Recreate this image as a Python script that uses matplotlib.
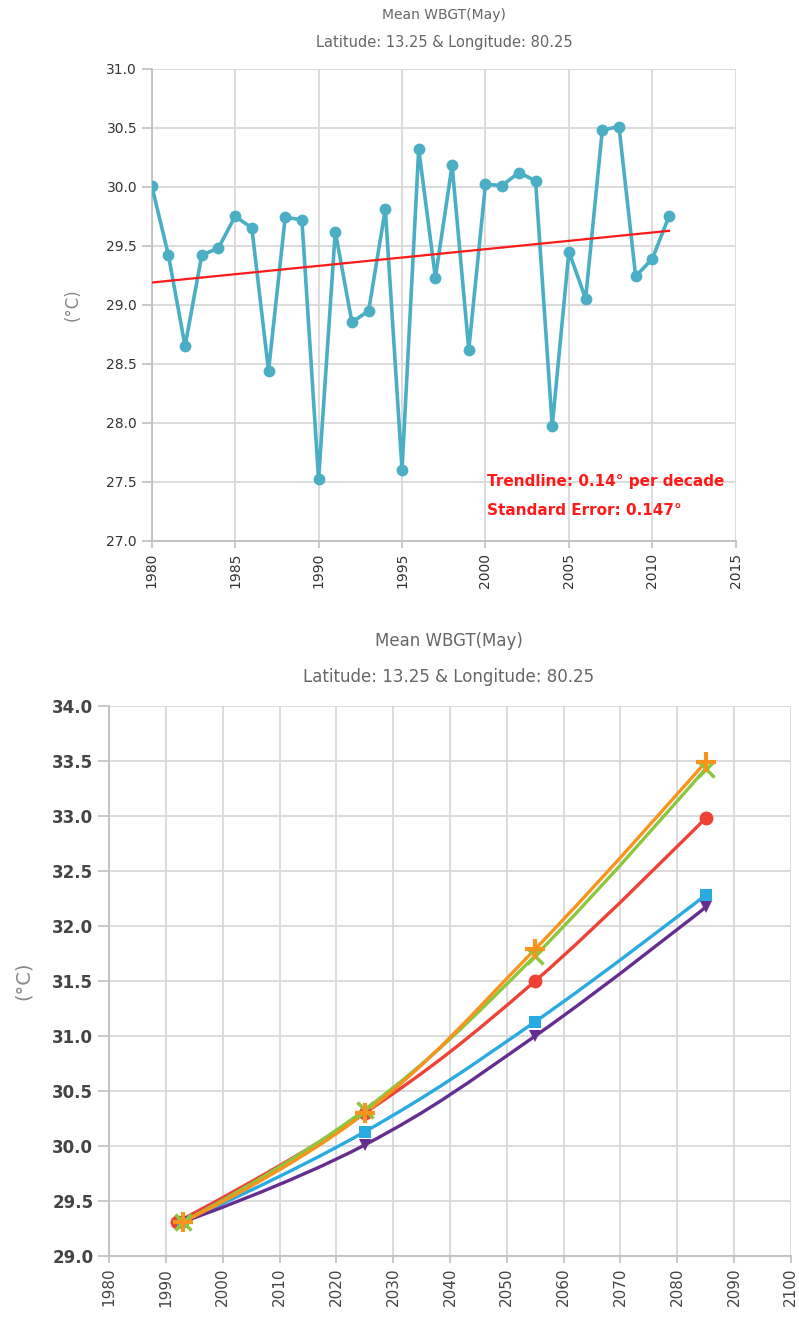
import matplotlib
matplotlib.use('Agg')
import matplotlib.pyplot as plt
import numpy as np
from matplotlib.path import Path
from matplotlib.patches import PathPatch

plt.rcParams['font.family'] = ['DejaVu Sans']

# ---- data: observed May mean WBGT ----
years = list(range(1980, 2012))
wbgt = [30.01, 29.42, 28.65, 29.42, 29.48, 29.75, 29.65, 28.44, 29.74, 29.72,
        27.52, 29.62, 28.85, 28.95, 29.81, 27.60, 30.32, 29.23, 30.18, 28.62,
        30.02, 30.01, 30.12, 30.05, 27.97, 29.45, 29.05, 30.48, 30.51, 29.24,
        29.39, 29.75]
trend_text = ['Trendline: 0.14° per decade', 'Standard Error: 0.147°']

# ---- data: projections ----
proj_years = [1993, 2025, 2055, 2085]
red_years = [1992, 2025, 2055, 2085]
proj_red = [29.31, 30.30, 31.50, 32.98]
proj_blue = [29.31, 30.13, 31.13, 32.28]
proj_purple = [29.31, 30.01, 31.00, 32.17]
proj_green = [29.31, 30.33, 31.73, 33.43]
proj_orange = [29.31, 30.30, 31.79, 33.49]

title1 = 'Mean WBGT(May)'
title2 = 'Latitude: 13.25 & Longitude: 80.25'

grid_c = '#d9d9d9'
axis_c = '#c0c0c0'
title_c = '#666666'
tick_c = '#333333'


def style_axes(ax):
    ax.grid(True, color=grid_c, linewidth=1.3)
    ax.set_axisbelow(True)
    for s in ['top', 'right']:
        ax.spines[s].set_visible(False)
    for s in ['left', 'bottom']:
        ax.spines[s].set_color(axis_c)
        ax.spines[s].set_linewidth(1.3)
    ax.tick_params(axis='both', color=axis_c, width=1.2, length=7, colors=tick_c)


def spline_path(xs, ys, smoothing=1.5):
    # Highcharts-like spline drawn as cubic bezier segments
    n = len(xs)
    lc = []
    rc = []
    denom = smoothing + 1
    for i in range(n):
        x, y = xs[i], ys[i]
        if 0 < i < n - 1:
            lx = (smoothing * x + xs[i - 1]) / denom
            ly = (smoothing * y + ys[i - 1]) / denom
            rx = (smoothing * x + xs[i + 1]) / denom
            ry = (smoothing * y + ys[i + 1]) / denom
            if rx != lx:
                corr = (ry - ly) * (rx - x) / (rx - lx) + y - ry
                ly += corr
                ry += corr
            lc.append((lx, ly))
            rc.append((rx, ry))
        else:
            lc.append((x, y))
            rc.append((x, y))
    verts = [(xs[0], ys[0])]
    codes = [Path.MOVETO]
    for i in range(1, n):
        verts += [rc[i - 1], lc[i], (xs[i], ys[i])]
        codes += [Path.CURVE4] * 3
    return Path(verts, codes)


fig = plt.figure(figsize=(7.99, 13.21), dpi=100)

# ---------------- top chart ----------------
ax1 = fig.add_axes([151.7 / 799, (1321 - 540.7) / 1321, 584.1 / 799, 472 / 1321])
style_axes(ax1)
ax1.plot(years, wbgt, color='#4aafc4', linewidth=2.6, marker='o', markersize=8.5,
         markeredgewidth=0, zorder=3)
slope, icpt = np.polyfit(years, wbgt, 1)
tx = np.array([years[0], years[-1]])
ax1.plot(tx, slope * tx + icpt, color='#ff1a1a', linewidth=1.6, zorder=4)
ax1.set_xlim(1980, 2015)
ax1.set_ylim(27.0, 31.0)
ax1.set_xticks(np.arange(1980, 2016, 5))
ax1.set_yticks(np.arange(27.0, 31.01, 0.5))
ax1.set_yticklabels([f'{v:.1f}' for v in np.arange(27.0, 31.01, 0.5)], fontsize=10)
ax1.set_xticklabels([str(v) for v in range(1980, 2016, 5)], rotation=90, fontsize=10)
ax1.tick_params(axis='x', length=5)
ax1.set_ylabel('(°C)', color='#888888', fontsize=12, labelpad=18)
ax1.text(2000.1, 27.5, trend_text[0], color='#ff1a1a', fontsize=11,
         fontweight='bold', va='center', ha='left')
ax1.text(2000.1, 27.26, trend_text[1], color='#ff1a1a', fontsize=11,
         fontweight='bold', va='center', ha='left')
fig.text(444 / 799, 1 - 15 / 1321, title1, ha='center', va='center',
         color=title_c, fontsize=10)
fig.text(444 / 799, 1 - 43 / 1321, title2, ha='center', va='center',
         color=title_c, fontsize=10.5)

# ---------------- bottom chart ----------------
ax2 = fig.add_axes([109.3 / 799, (1321 - 1256) / 1321, 681.4 / 799, 550 / 1321])
style_axes(ax2)
series = [
    (red_years, proj_red, '#ee4236', 'o', 10, 0),
    (proj_years, proj_blue, '#29abe2', 's', 9, 0),
    (proj_years, proj_purple, '#662d91', 'v', 9, 0),
    (proj_years, proj_green, '#8dc63f', 'x', 12, 2.5),
    (proj_years, proj_orange, '#f7941d', '+', 15, 3),
]
for xs, ys, col, mk, ms, mew in series:
    p = PathPatch(spline_path(xs, ys), facecolor='none', edgecolor=col,
                  linewidth=2.4, zorder=3)
    ax2.add_patch(p)
    ax2.plot(xs, ys, linestyle='none', marker=mk, markersize=ms,
             color=col, markeredgewidth=mew, zorder=4)
ax2.set_xlim(1980, 2100)
ax2.set_ylim(29.0, 34.0)
ax2.set_xticks(np.arange(1980, 2101, 10))
ax2.set_yticks(np.arange(29.0, 34.01, 0.5))
ax2.set_yticklabels([f'{v:.1f}' for v in np.arange(29.0, 34.01, 0.5)],
                    fontsize=12, fontweight='bold', color='#444444')
ax2.set_xticklabels([str(v) for v in range(1980, 2101, 10)], rotation=90,
                    fontsize=11, color='#444444')
ax2.tick_params(axis='x', length=5)
ax2.tick_params(axis='y', length=8)
ax2.set_ylabel('(°C)', color='#888888', fontsize=14, labelpad=14)
fig.text(449 / 799, 1 - 641 / 1321, title1, ha='center', va='center',
         color=title_c, fontsize=12)
fig.text(449 / 799, 1 - 677 / 1321, title2, ha='center', va='center',
         color=title_c, fontsize=12)

fig.savefig('out.png', dpi=100)
